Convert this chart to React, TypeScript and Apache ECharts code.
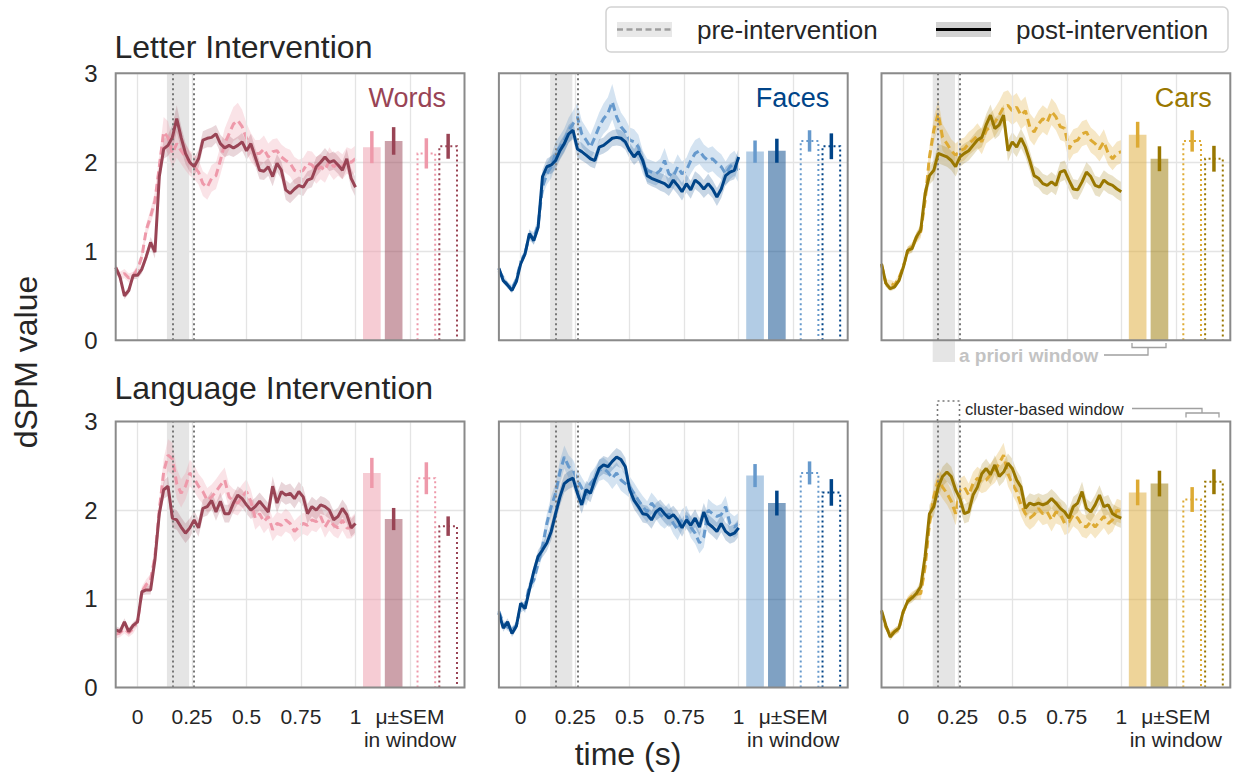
import React, { useEffect, useRef } from "react";
import * as echarts from "echarts";

// ---------------- data ----------------
const TIME = [-0.1, -0.08, -0.06, -0.04, -0.02, 0, 0.02, 0.04, 0.06, 0.08, 0.1, 0.12, 0.14, 0.16, 0.18, 0.2, 0.22, 0.24, 0.26, 0.28, 0.3, 0.32, 0.34, 0.36, 0.38, 0.4, 0.42, 0.44, 0.46, 0.48, 0.5, 0.52, 0.54, 0.56, 0.58, 0.6, 0.62, 0.64, 0.66, 0.68, 0.7, 0.72, 0.74, 0.76, 0.78, 0.8, 0.82, 0.84, 0.86, 0.88, 0.9, 0.92, 0.94, 0.96, 0.98, 1.0];

const X_TICKS = [0, 0.25, 0.5, 0.75, 1, 1.25];
const X_TICK_LABELS = ["0", "0.25", "0.5", "0.75", "1", "μ±SEM\nin window"];
const Y_TICKS_MAX = 3;
const APRIORI_WINDOW = [0.135, 0.237];
const CLUSTER_WINDOW = [0.158, 0.258];
const BAR_X = [1.075, 1.175, 1.325, 1.425];
const BAR_W = 0.081;

const ROW_TITLES = ["Letter Intervention", "Language Intervention"];
const CATEGORIES = ["Words", "Faces", "Cars"];
const PRE_COLORS = ["#EE99AA", "#6699CC", "#DDAA33"];
const POST_COLORS = ["#994455", "#004488", "#997700"];

// Letter intervention
const wordsLetterPre = [0.80, 0.72, 0.75, 0.70, 0.72, 0.80, 0.94, 1.24, 1.39, 1.57, 1.95, 2.34, 2.28, 2.10, 2.21, 2.13, 2.06, 1.99, 1.95, 1.89, 1.76, 1.72, 1.82, 1.85, 2.02, 2.21, 2.32, 2.43, 2.47, 2.40, 2.27, 2.17, 2.10, 2.10, 2.15, 2.06, 2.12, 2.13, 2.06, 2.02, 1.99, 1.91, 1.89, 1.91, 1.99, 1.97, 1.91, 1.95, 1.91, 2.02, 1.95, 1.99, 1.95, 2.02, 2.00, 2.04];
const wordsLetterPreSem = [0.05, 0.05, 0.05, 0.05, 0.05, 0.05, 0.06, 0.07, 0.08, 0.10, 0.13, 0.17, 0.18, 0.17, 0.16, 0.15, 0.15, 0.14, 0.14, 0.14, 0.14, 0.14, 0.15, 0.15, 0.16, 0.17, 0.18, 0.19, 0.20, 0.19, 0.17, 0.16, 0.15, 0.15, 0.15, 0.15, 0.14, 0.14, 0.14, 0.14, 0.15, 0.15, 0.14, 0.14, 0.14, 0.15, 0.15, 0.14, 0.14, 0.15, 0.15, 0.14, 0.14, 0.15, 0.15, 0.15];
const wordsLetterPost = [0.82, 0.71, 0.50, 0.56, 0.73, 0.73, 0.80, 0.94, 1.10, 0.99, 1.84, 2.15, 2.19, 2.28, 2.49, 2.28, 2.10, 2.00, 1.95, 2.04, 2.25, 2.27, 2.28, 2.32, 2.21, 2.16, 2.19, 2.16, 2.19, 2.23, 2.13, 2.21, 2.06, 1.91, 1.90, 1.95, 1.84, 1.99, 1.91, 1.69, 1.65, 1.70, 1.74, 1.72, 1.80, 1.82, 1.95, 2.00, 2.06, 2.00, 2.02, 1.97, 1.91, 2.04, 1.82, 1.72];
const wordsLetterPostSem = [0.04, 0.04, 0.04, 0.04, 0.04, 0.04, 0.05, 0.05, 0.06, 0.07, 0.09, 0.11, 0.12, 0.14, 0.15, 0.13, 0.12, 0.11, 0.10, 0.10, 0.10, 0.10, 0.11, 0.10, 0.10, 0.10, 0.11, 0.10, 0.10, 0.10, 0.10, 0.11, 0.10, 0.10, 0.10, 0.10, 0.11, 0.10, 0.10, 0.11, 0.11, 0.11, 0.10, 0.10, 0.10, 0.10, 0.11, 0.10, 0.10, 0.10, 0.10, 0.10, 0.10, 0.11, 0.11, 0.11];
const wordsLetterBarMean = [2.17, 2.24, 2.10, 2.18];
const wordsLetterBarSem = [0.18, 0.155, 0.17, 0.14];

const facesLetterPre = [0.78, 0.70, 0.62, 0.58, 0.68, 0.88, 0.98, 1.18, 1.15, 1.30, 1.72, 1.87, 1.95, 2.10, 2.17, 2.25, 2.36, 2.43, 2.51, 2.32, 2.25, 2.17, 2.28, 2.40, 2.49, 2.55, 2.68, 2.51, 2.40, 2.34, 2.25, 2.23, 2.17, 2.00, 1.91, 1.89, 1.87, 1.91, 2.02, 1.87, 1.84, 1.95, 1.87, 1.91, 2.02, 2.10, 2.13, 2.06, 2.02, 2.04, 1.99, 1.95, 1.87, 1.95, 1.99, 1.91];
const facesLetterPreSem = [0.04, 0.04, 0.04, 0.04, 0.04, 0.05, 0.05, 0.06, 0.07, 0.08, 0.10, 0.12, 0.13, 0.13, 0.13, 0.13, 0.14, 0.15, 0.16, 0.15, 0.14, 0.14, 0.15, 0.16, 0.17, 0.18, 0.20, 0.18, 0.16, 0.15, 0.14, 0.14, 0.14, 0.13, 0.13, 0.13, 0.13, 0.13, 0.14, 0.14, 0.14, 0.14, 0.14, 0.14, 0.15, 0.15, 0.15, 0.14, 0.14, 0.14, 0.14, 0.14, 0.14, 0.14, 0.14, 0.14];
const facesLetterPost = [0.81, 0.67, 0.62, 0.56, 0.66, 0.86, 0.97, 1.20, 1.12, 1.27, 1.84, 1.95, 1.97, 2.02, 2.13, 2.21, 2.32, 2.36, 2.15, 2.12, 2.08, 2.04, 2.02, 2.17, 2.19, 2.23, 2.27, 2.28, 2.27, 2.23, 2.13, 2.06, 2.12, 2.02, 1.85, 1.82, 1.80, 1.78, 1.76, 1.72, 1.80, 1.74, 1.67, 1.76, 1.69, 1.80, 1.76, 1.70, 1.76, 1.70, 1.61, 1.70, 1.85, 1.89, 1.91, 2.06];
const facesLetterPostSem = [0.03, 0.03, 0.03, 0.03, 0.03, 0.04, 0.04, 0.05, 0.05, 0.06, 0.08, 0.09, 0.10, 0.10, 0.10, 0.10, 0.10, 0.10, 0.10, 0.10, 0.09, 0.09, 0.09, 0.09, 0.09, 0.10, 0.09, 0.09, 0.09, 0.09, 0.09, 0.09, 0.10, 0.09, 0.09, 0.09, 0.09, 0.10, 0.10, 0.10, 0.10, 0.10, 0.10, 0.10, 0.10, 0.10, 0.10, 0.10, 0.11, 0.10, 0.10, 0.10, 0.10, 0.10, 0.10, 0.10];
const facesLetterBarMean = [2.12, 2.13, 2.24, 2.18];
const facesLetterBarSem = [0.125, 0.135, 0.12, 0.145];

const carsLetterPre = [0.85, 0.64, 0.64, 0.62, 0.70, 0.83, 1.00, 1.05, 1.15, 1.22, 1.57, 2.06, 2.36, 2.55, 2.28, 2.21, 2.13, 2.08, 2.13, 2.15, 2.21, 2.25, 2.30, 2.23, 2.36, 2.40, 2.45, 2.53, 2.62, 2.64, 2.58, 2.62, 2.53, 2.58, 2.40, 2.34, 2.43, 2.49, 2.45, 2.57, 2.51, 2.40, 2.38, 2.15, 2.23, 2.25, 2.32, 2.34, 2.25, 2.21, 2.15, 2.23, 2.10, 2.04, 2.10, 2.12];
const carsLetterPreSem = [0.04, 0.04, 0.04, 0.04, 0.04, 0.04, 0.05, 0.05, 0.06, 0.07, 0.10, 0.12, 0.14, 0.15, 0.15, 0.14, 0.13, 0.13, 0.13, 0.13, 0.13, 0.13, 0.14, 0.14, 0.15, 0.15, 0.16, 0.16, 0.17, 0.17, 0.16, 0.16, 0.16, 0.16, 0.15, 0.15, 0.15, 0.15, 0.15, 0.15, 0.15, 0.15, 0.15, 0.14, 0.14, 0.14, 0.14, 0.14, 0.14, 0.14, 0.14, 0.14, 0.13, 0.13, 0.13, 0.13];
const carsLetterPost = [0.86, 0.64, 0.58, 0.60, 0.67, 0.82, 1.01, 1.03, 1.16, 1.24, 1.65, 1.85, 1.91, 2.10, 2.08, 2.06, 2.02, 1.95, 2.06, 2.10, 2.13, 2.19, 2.25, 2.28, 2.42, 2.53, 2.38, 2.42, 2.53, 2.13, 2.23, 2.17, 2.27, 2.17, 2.02, 1.85, 1.82, 1.76, 1.74, 1.78, 1.74, 1.89, 1.91, 1.80, 1.70, 1.69, 1.78, 1.89, 1.84, 1.74, 1.72, 1.80, 1.76, 1.74, 1.70, 1.67];
const carsLetterPostSem = [0.04, 0.04, 0.03, 0.03, 0.03, 0.04, 0.04, 0.05, 0.05, 0.06, 0.09, 0.10, 0.11, 0.11, 0.11, 0.11, 0.11, 0.11, 0.11, 0.11, 0.11, 0.11, 0.11, 0.11, 0.12, 0.12, 0.12, 0.12, 0.12, 0.12, 0.11, 0.11, 0.11, 0.11, 0.11, 0.11, 0.11, 0.11, 0.11, 0.11, 0.11, 0.11, 0.11, 0.11, 0.11, 0.11, 0.11, 0.11, 0.11, 0.11, 0.11, 0.11, 0.11, 0.11, 0.11, 0.11];
const carsLetterBarMean = [2.31, 2.04, 2.24, 2.04];
const carsLetterBarSem = [0.145, 0.14, 0.12, 0.145];

// Language intervention
const wordsLangPre = [0.60, 0.62, 0.66, 0.62, 0.66, 0.74, 1.08, 1.16, 1.21, 1.48, 2.00, 2.43, 2.62, 2.58, 2.30, 2.19, 2.27, 2.42, 2.36, 2.27, 2.21, 2.11, 2.15, 2.21, 2.28, 2.34, 2.15, 2.10, 2.08, 2.15, 2.21, 2.10, 1.91, 1.96, 1.87, 1.93, 1.78, 1.85, 1.83, 1.89, 1.85, 1.76, 1.81, 1.85, 1.83, 1.89, 1.87, 1.93, 1.81, 1.89, 1.83, 1.80, 1.89, 1.80, 1.80, 1.85];
const wordsLangPreSem = [0.05, 0.05, 0.05, 0.05, 0.05, 0.05, 0.06, 0.06, 0.07, 0.09, 0.12, 0.15, 0.18, 0.18, 0.17, 0.16, 0.15, 0.15, 0.15, 0.14, 0.14, 0.14, 0.14, 0.14, 0.14, 0.14, 0.14, 0.14, 0.14, 0.14, 0.14, 0.13, 0.13, 0.13, 0.13, 0.13, 0.13, 0.13, 0.13, 0.13, 0.12, 0.12, 0.12, 0.12, 0.12, 0.12, 0.12, 0.12, 0.12, 0.12, 0.12, 0.12, 0.12, 0.12, 0.12, 0.12];
const wordsLangPost = [0.65, 0.63, 0.74, 0.63, 0.70, 0.74, 1.08, 1.10, 1.10, 1.44, 1.96, 2.23, 2.27, 1.91, 1.89, 1.81, 1.74, 1.80, 1.89, 1.80, 2.02, 2.04, 2.11, 1.98, 2.10, 1.96, 1.96, 2.08, 2.17, 2.13, 2.06, 2.00, 2.04, 2.10, 2.04, 1.98, 2.27, 2.08, 2.21, 2.17, 2.19, 2.13, 2.21, 2.15, 1.96, 2.04, 2.00, 2.06, 2.04, 2.00, 1.89, 1.93, 2.02, 1.95, 1.80, 1.85];
const wordsLangPostSem = [0.04, 0.04, 0.04, 0.04, 0.04, 0.04, 0.04, 0.05, 0.05, 0.06, 0.08, 0.10, 0.11, 0.11, 0.11, 0.11, 0.11, 0.11, 0.10, 0.10, 0.10, 0.10, 0.10, 0.10, 0.10, 0.10, 0.10, 0.10, 0.10, 0.10, 0.10, 0.10, 0.10, 0.10, 0.10, 0.10, 0.11, 0.11, 0.11, 0.11, 0.11, 0.11, 0.11, 0.11, 0.11, 0.11, 0.11, 0.10, 0.10, 0.10, 0.10, 0.10, 0.10, 0.10, 0.10, 0.10];
const wordsLangBarMean = [2.42, 1.90, 2.36, 1.82];
const wordsLangBarSem = [0.17, 0.125, 0.18, 0.11];

const facesLangPre = [0.86, 0.72, 0.68, 0.65, 0.70, 0.90, 0.92, 1.15, 1.21, 1.40, 1.59, 1.85, 2.04, 2.19, 2.43, 2.60, 2.49, 2.45, 2.34, 2.25, 2.17, 2.30, 2.36, 2.45, 2.47, 2.43, 2.36, 2.42, 2.34, 2.30, 2.26, 2.19, 2.11, 2.04, 1.98, 2.08, 2.02, 1.95, 1.91, 1.96, 1.85, 1.78, 1.89, 1.93, 1.81, 1.74, 1.63, 1.70, 2.00, 1.96, 1.93, 1.95, 2.04, 1.85, 1.81, 1.85];
const facesLangPreSem = [0.04, 0.04, 0.04, 0.04, 0.04, 0.05, 0.05, 0.06, 0.07, 0.08, 0.10, 0.11, 0.12, 0.12, 0.13, 0.13, 0.13, 0.12, 0.12, 0.12, 0.12, 0.12, 0.12, 0.12, 0.12, 0.12, 0.12, 0.12, 0.12, 0.12, 0.12, 0.12, 0.12, 0.12, 0.12, 0.12, 0.12, 0.12, 0.12, 0.12, 0.12, 0.12, 0.12, 0.12, 0.12, 0.12, 0.12, 0.12, 0.13, 0.12, 0.12, 0.12, 0.12, 0.12, 0.12, 0.12];
const facesLangPost = [0.84, 0.67, 0.74, 0.61, 0.69, 0.95, 0.89, 1.10, 1.31, 1.48, 1.55, 1.63, 1.76, 1.96, 2.15, 2.30, 2.34, 2.36, 2.19, 2.06, 2.23, 2.19, 2.34, 2.47, 2.51, 2.49, 2.55, 2.60, 2.57, 2.49, 2.23, 2.11, 2.04, 1.96, 1.95, 1.89, 1.98, 2.02, 1.96, 1.91, 1.95, 1.89, 1.80, 1.89, 1.83, 1.91, 1.81, 1.98, 1.85, 1.81, 1.76, 1.85, 1.76, 1.72, 1.74, 1.80];
const facesLangPostSem = [0.04, 0.04, 0.04, 0.04, 0.04, 0.04, 0.05, 0.05, 0.06, 0.07, 0.08, 0.09, 0.10, 0.10, 0.10, 0.10, 0.10, 0.10, 0.10, 0.10, 0.10, 0.10, 0.10, 0.10, 0.10, 0.10, 0.10, 0.10, 0.10, 0.10, 0.10, 0.10, 0.10, 0.10, 0.10, 0.10, 0.10, 0.10, 0.10, 0.10, 0.10, 0.10, 0.10, 0.10, 0.10, 0.10, 0.10, 0.10, 0.10, 0.10, 0.10, 0.10, 0.10, 0.10, 0.10, 0.10];
const facesLangBarMean = [2.39, 2.08, 2.42, 2.20];
const facesLangBarSem = [0.13, 0.14, 0.13, 0.15];

const carsLangPre = [0.85, 0.68, 0.60, 0.63, 0.66, 0.85, 0.98, 1.03, 1.05, 1.06, 1.36, 1.85, 2.15, 2.34, 2.26, 2.19, 2.10, 1.96, 2.23, 2.26, 2.17, 2.30, 2.36, 2.32, 2.34, 2.40, 2.45, 2.53, 2.62, 2.41, 2.30, 2.21, 2.06, 1.96, 1.91, 1.95, 2.02, 1.96, 1.98, 1.89, 1.98, 1.96, 1.85, 1.87, 1.95, 1.91, 1.83, 1.81, 1.87, 1.81, 1.87, 1.93, 1.85, 1.89, 2.00, 1.98];
const carsLangPreSem = [0.04, 0.04, 0.04, 0.04, 0.04, 0.04, 0.05, 0.05, 0.06, 0.07, 0.10, 0.12, 0.13, 0.13, 0.13, 0.13, 0.13, 0.13, 0.13, 0.13, 0.13, 0.13, 0.13, 0.13, 0.13, 0.13, 0.14, 0.14, 0.14, 0.14, 0.13, 0.13, 0.13, 0.13, 0.13, 0.13, 0.13, 0.13, 0.13, 0.13, 0.13, 0.13, 0.13, 0.13, 0.13, 0.13, 0.13, 0.13, 0.13, 0.13, 0.13, 0.13, 0.13, 0.13, 0.13, 0.13];
const carsLangPost = [0.87, 0.70, 0.57, 0.63, 0.67, 0.86, 0.97, 1.01, 1.06, 1.14, 1.48, 1.96, 2.04, 2.26, 2.38, 2.43, 2.38, 2.23, 2.13, 1.96, 1.98, 2.17, 2.26, 2.41, 2.47, 2.40, 2.51, 2.38, 2.43, 2.53, 2.47, 2.34, 2.26, 2.02, 2.08, 2.06, 2.08, 2.06, 2.08, 2.13, 2.08, 2.02, 1.98, 1.91, 2.04, 2.08, 2.21, 2.02, 1.98, 2.06, 2.17, 2.04, 2.06, 1.96, 1.93, 1.91];
const carsLangPostSem = [0.04, 0.04, 0.04, 0.04, 0.04, 0.04, 0.04, 0.05, 0.05, 0.06, 0.08, 0.10, 0.11, 0.11, 0.11, 0.11, 0.11, 0.11, 0.11, 0.11, 0.11, 0.11, 0.11, 0.11, 0.11, 0.11, 0.11, 0.11, 0.11, 0.11, 0.11, 0.11, 0.11, 0.11, 0.11, 0.11, 0.11, 0.11, 0.11, 0.11, 0.11, 0.11, 0.11, 0.11, 0.11, 0.11, 0.11, 0.11, 0.11, 0.11, 0.11, 0.11, 0.11, 0.11, 0.11, 0.11];
const carsLangBarMean = [2.20, 2.30, 2.12, 2.32];
const carsLangBarSem = [0.145, 0.145, 0.14, 0.14];

const PANELS = [
  { pre: wordsLetterPre, preSem: wordsLetterPreSem, post: wordsLetterPost, postSem: wordsLetterPostSem, barMean: wordsLetterBarMean, barSem: wordsLetterBarSem },
  { pre: facesLetterPre, preSem: facesLetterPreSem, post: facesLetterPost, postSem: facesLetterPostSem, barMean: facesLetterBarMean, barSem: facesLetterBarSem },
  { pre: carsLetterPre, preSem: carsLetterPreSem, post: carsLetterPost, postSem: carsLetterPostSem, barMean: carsLetterBarMean, barSem: carsLetterBarSem },
  { pre: wordsLangPre, preSem: wordsLangPreSem, post: wordsLangPost, postSem: wordsLangPostSem, barMean: wordsLangBarMean, barSem: wordsLangBarSem },
  { pre: facesLangPre, preSem: facesLangPreSem, post: facesLangPost, postSem: facesLangPostSem, barMean: facesLangBarMean, barSem: facesLangBarSem },
  { pre: carsLangPre, preSem: carsLangPreSem, post: carsLangPost, postSem: carsLangPostSem, barMean: carsLangBarMean, barSem: carsLangBarSem },
];

// ---------------- layout ----------------
const GRID_LEFTS = [115.7, 498.9, 881.5];
const GRID_TOPS = [73.3, 421.5];
const GRID_HEIGHTS = [267, 266];
const GRID_W = 348.8;
const FONT = "Liberation Sans, Arial, Helvetica, sans-serif";
const TEXT_COLOR = "#262626";

function rgba(hex: string, a: number) {
  const n = parseInt(hex.slice(1), 16);
  return `rgba(${(n >> 16) & 255},${(n >> 8) & 255},${n & 255},${a})`;
}

function txt(text: string, x: number, y: number, size: number, opts: any = {}) {
  return {
    type: "text",
    x,
    y,
    rotation: opts.rotation || 0,
    z: 100,
    silent: true,
    style: {
      text,
      fill: opts.color || TEXT_COLOR,
      fontSize: size,
      fontFamily: FONT,
      fontWeight: opts.weight || "normal",
      align: opts.align || "left",
      textAlign: opts.align || "left",
      verticalAlign: "middle",
      textVerticalAlign: "middle",
    },
  };
}

function bandSeries(i: number, vals: number[], sems: number[], color: string, alpha: number, z: number) {
  return {
    type: "custom",
    xAxisIndex: i,
    yAxisIndex: i,
    z,
    silent: true,
    clip: false,
    data: TIME.map((t, k) => [t, vals[k] - sems[k], vals[k] + sems[k]]),
    renderItem: (params: any, api: any) => {
      if (params.dataIndex !== 0) return null;
      const up: number[][] = [];
      const dn: number[][] = [];
      for (let k = 0; k < TIME.length; k++) {
        up.push(api.coord([TIME[k], vals[k] + sems[k]]));
        dn.push(api.coord([TIME[k], vals[k] - sems[k]]));
      }
      return {
        type: "polygon",
        shape: { points: up.concat(dn.reverse()) },
        style: { fill: rgba(color, alpha) },
      };
    },
  };
}

function buildOption() {
  const grids: any[] = [];
  const xAxes: any[] = [];
  const yAxes: any[] = [];
  const series: any[] = [];
  const graphic: any[] = [];

  PANELS.forEach((p, i) => {
    const row = Math.floor(i / 3);
    const col = i % 3;
    const preColor = PRE_COLORS[col];
    const postColor = POST_COLORS[col];
    grids.push({
      left: GRID_LEFTS[col],
      top: GRID_TOPS[row],
      width: GRID_W,
      height: GRID_HEIGHTS[row],
      show: false,
    });
    xAxes.push({
      type: "value",
      gridIndex: i,
      min: -0.1,
      max: 1.5,
      axisLine: { show: false },
      axisTick: { show: false },
      splitLine: { show: false },
      axisLabel: {
        show: row === 1,
        customValues: X_TICKS,
        formatter: (v: number) => {
          const k = X_TICKS.findIndex((t) => Math.abs(t - v) < 1e-6);
          return k >= 0 ? X_TICK_LABELS[k] : "";
        },
        fontSize: 21,
        fontFamily: FONT,
        color: TEXT_COLOR,
        margin: 17,
        lineHeight: 23,
      },
    });
    yAxes.push({
      type: "value",
      gridIndex: i,
      min: 0,
      max: Y_TICKS_MAX,
      interval: 1,
      axisLine: { show: false },
      axisTick: { show: false },
      splitLine: { show: true, lineStyle: { color: "#e4e4e4", width: 1.3 } },
      axisLabel: {
        show: col === 0,
        fontSize: 24,
        fontFamily: FONT,
        color: TEXT_COLOR,
        margin: 18,
      },
    });

    const common = {
      xAxisIndex: i,
      yAxisIndex: i,
      symbol: "none",
      showSymbol: false,
      silent: true,
      animation: false,
      emphasis: { disabled: true },
    };

    // background: a-priori window + vertical grid lines (invisible carrier line)
    series.push({
      ...common,
      type: "line",
      z: 0,
      data: TIME.map((t, k) => [t, p.pre[k]]),
      lineStyle: { opacity: 0, width: 0 },
      markArea: {
        silent: true,
        itemStyle: { color: "#e5e5e5" },
        data: [[{ xAxis: APRIORI_WINDOW[0] }, { xAxis: APRIORI_WINDOW[1] }]],
      },
      markLine: {
        silent: true,
        symbol: ["none", "none"],
        label: { show: false },
        emphasis: { disabled: true },
        data: X_TICKS.map((v) => ({ xAxis: v, lineStyle: { color: "#e4e4e4", width: 1.3, type: "solid" } })),
      },
    });

    // SEM bands
    series.push(bandSeries(i, p.pre, p.preSem, preColor, 0.28, 2));
    series.push(bandSeries(i, p.post, p.postSem, postColor, 0.22, 2));

    // pre line (dashed) + cluster window dotted lines
    series.push({
      ...common,
      type: "line",
      z: 4,
      data: TIME.map((t, k) => [t, p.pre[k]]),
      lineStyle: { color: preColor, width: 3, type: [8, 4.5] },
      markLine: {
        silent: true,
        symbol: ["none", "none"],
        label: { show: false },
        emphasis: { disabled: true },
        data: CLUSTER_WINDOW.map((v) => ({ xAxis: v, lineStyle: { color: "#777777", width: 2, type: [2, 3] } })),
      },
    });
    // post line (solid)
    series.push({
      ...common,
      type: "line",
      z: 5,
      data: TIME.map((t, k) => [t, p.post[k]]),
      lineStyle: { color: postColor, width: 3, type: "solid" },
    });
    // bars in window (custom)
    series.push({
      type: "custom",
      xAxisIndex: i,
      yAxisIndex: i,
      z: 3,
      silent: true,
      clip: false,
      data: BAR_X.map((x, k) => [x, p.barMean[k], p.barSem[k], k]),
      renderItem: (params: any, api: any) => {
        const x = api.value(0);
        const m = api.value(1);
        const s = api.value(2);
        const k = api.value(3);
        const color = k % 2 === 0 ? preColor : postColor;
        const l = api.coord([x - BAR_W / 2, m]);
        const r = api.coord([x + BAR_W / 2, 0]);
        const c = api.coord([x, m]);
        const lo = api.coord([x, m - s]);
        const hi = api.coord([x, m + s]);
        const children: any[] = [];
        if (k < 2) {
          children.push({
            type: "rect",
            shape: { x: l[0], y: l[1], width: r[0] - l[0], height: r[1] - l[1] },
            style: { fill: rgba(color, 0.5) },
          });
        } else {
          children.push({
            type: "polyline",
            shape: { points: [[l[0], r[1]], [l[0], l[1]], [r[0], l[1]], [r[0], r[1]]] },
            style: { stroke: color, fill: "none", lineWidth: 2, lineDash: [2, 3] },
          });
        }
        children.push({
          type: "line",
          shape: { x1: c[0], y1: lo[1], x2: c[0], y2: hi[1] },
          style: { stroke: color, lineWidth: 3.5 },
        });
        return { type: "group", children };
      },
    });

    // panel frame
    graphic.push({
      type: "rect",
      z: 90,
      silent: true,
      shape: { x: GRID_LEFTS[col], y: GRID_TOPS[row], width: GRID_W, height: GRID_HEIGHTS[row] },
      style: { fill: "none", stroke: "#8a8a8a", lineWidth: 2 },
    });
  });

  // titles
  graphic.push(txt(ROW_TITLES[0], 114.5, 46.5, 32));
  graphic.push(txt(ROW_TITLES[1], 114.5, 388, 32));
  // categories
  CATEGORIES.forEach((c, col) => {
    graphic.push(txt(c, GRID_LEFTS[col] + GRID_W - 18.5, 97.5, 27, { color: POST_COLORS[col], align: "right" }));
  });
  // axis names
  graphic.push(txt("dSPM value", 26, 362, 32, { rotation: Math.PI / 2, align: "center" }));
  graphic.push(txt("time (s)", 628, 754, 32, { align: "center" }));

  // legend
  graphic.push({ type: "rect", z: 100, silent: true, shape: { x: 606, y: 7, width: 622, height: 45, r: 5 }, style: { fill: "#ffffff", stroke: "#d2d2d2", lineWidth: 1.5 } });
  graphic.push({ type: "rect", z: 101, silent: true, shape: { x: 617, y: 22, width: 55, height: 15 }, style: { fill: "#e8e8e8" } });
  graphic.push({ type: "line", z: 102, silent: true, shape: { x1: 617, y1: 29.5, x2: 672, y2: 29.5 }, style: { stroke: "#9e9e9e", lineWidth: 2.5, lineDash: [6, 3.5] } });
  graphic.push(txt("pre-intervention", 697, 30, 26));
  graphic.push({ type: "rect", z: 101, silent: true, shape: { x: 936, y: 22, width: 55, height: 15 }, style: { fill: "#d2d2d2" } });
  graphic.push({ type: "line", z: 102, silent: true, shape: { x1: 936, y1: 29.5, x2: 991, y2: 29.5 }, style: { stroke: "#000000", lineWidth: 3 } });
  graphic.push(txt("post-intervention", 1016, 30, 26));

  // a priori window annotation
  graphic.push({ type: "rect", z: 80, silent: true, shape: { x: 932.7, y: 341, width: 22.3, height: 21 }, style: { fill: "#e5e5e5" } });
  graphic.push(txt("a priori window", 959, 355, 19, { color: "#c3c3c3", weight: "bold" }));
  graphic.push({ type: "polyline", z: 100, silent: true, shape: { points: [[1104, 355], [1148, 355], [1148, 347.5]] }, style: { stroke: "#a0a0a0", fill: "none", lineWidth: 1.3 } });
  graphic.push({ type: "polyline", z: 100, silent: true, shape: { points: [[1132, 343], [1132, 347.5], [1166, 347.5], [1166, 343]] }, style: { stroke: "#a0a0a0", fill: "none", lineWidth: 1.3 } });

  // cluster-based window annotation
  graphic.push({ type: "polyline", z: 100, silent: true, shape: { points: [[937.5, 421], [937.5, 401], [959.5, 401], [959.5, 421]] }, style: { stroke: "#777777", fill: "none", lineWidth: 1.6, lineDash: [2, 3] } });
  graphic.push(txt("cluster-based window", 965, 409, 16.5));
  graphic.push({ type: "polyline", z: 100, silent: true, shape: { points: [[1132, 408.5], [1202, 408.5], [1202, 413]] }, style: { stroke: "#a0a0a0", fill: "none", lineWidth: 1.3 } });
  graphic.push({ type: "polyline", z: 100, silent: true, shape: { points: [[1186, 417.5], [1186, 413], [1219, 413], [1219, 417.5]] }, style: { stroke: "#a0a0a0", fill: "none", lineWidth: 1.3 } });

  return {
    animation: false,
    backgroundColor: "#ffffff",
    textStyle: { fontFamily: FONT },
    grid: grids,
    xAxis: xAxes,
    yAxis: yAxes,
    series,
    graphic,
  };
}

export default function App() {
  const ref = useRef<HTMLDivElement>(null);
  useEffect(() => {
    if (!ref.current) return;
    const chart = echarts.init(ref.current, null, { renderer: "svg" });
    chart.setOption(buildOption() as any);
    return () => {
      chart.dispose();
    };
  }, []);
  return (
    <div
      ref={ref}
      style={{ position: "fixed", left: 0, top: 0, width: 1233, height: 778, background: "#fff" }}
    />
  );
}
